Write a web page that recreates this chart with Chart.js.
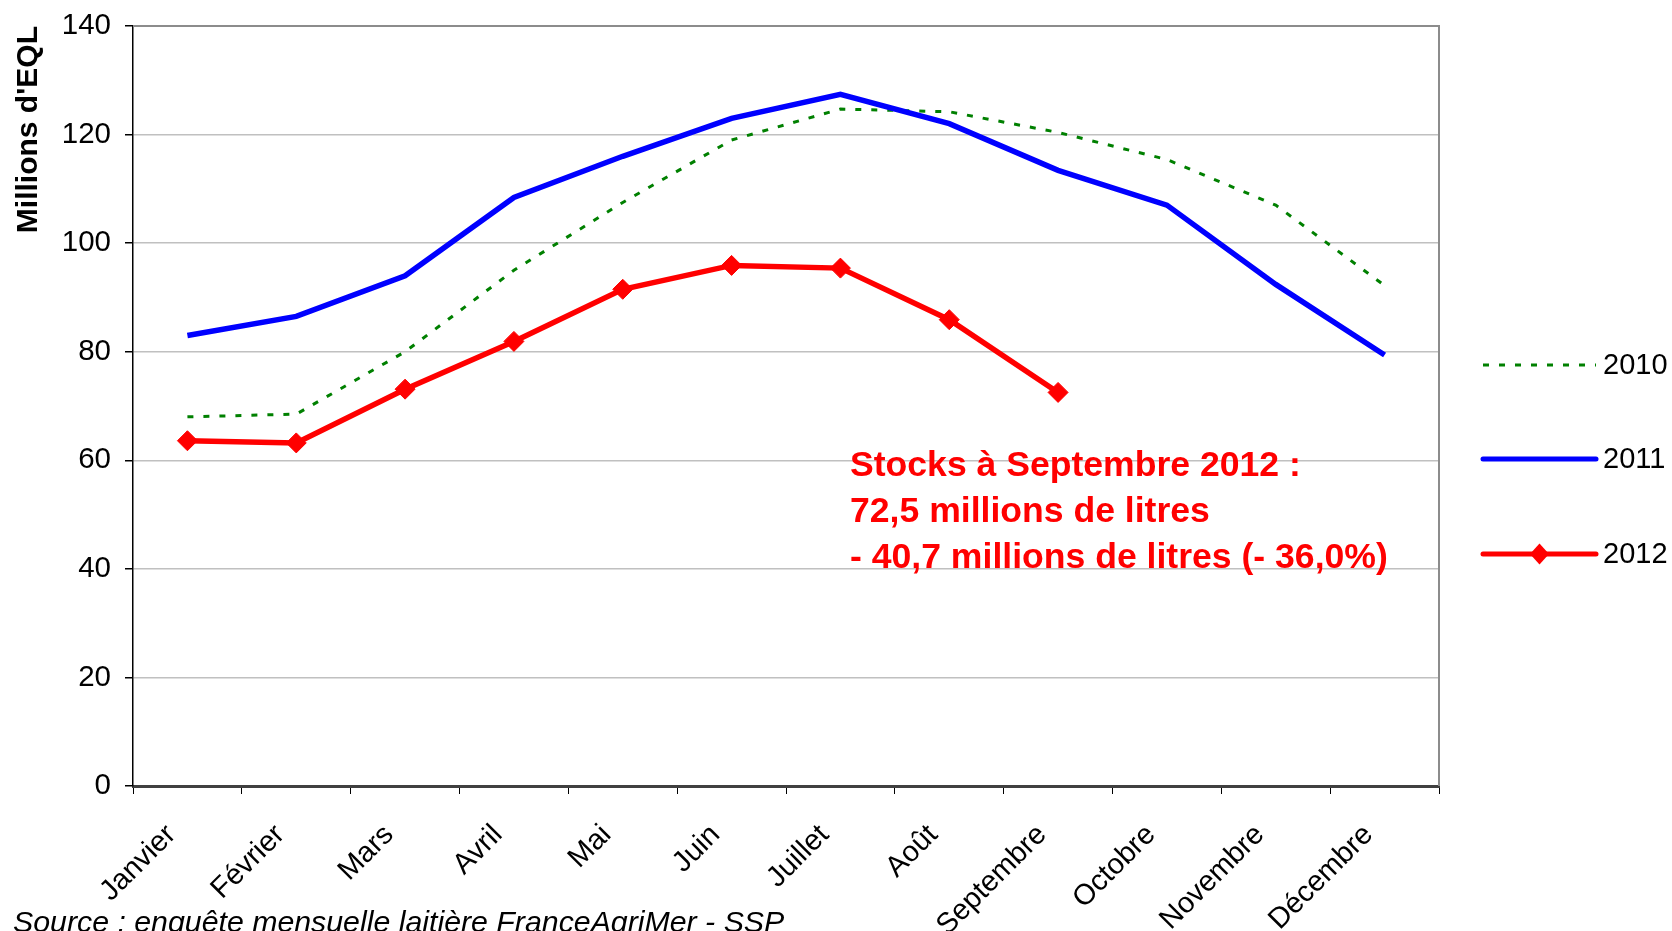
<!DOCTYPE html>
<html lang="fr">
<head>
    <meta charset="UTF-8">
    <title>Stocks - Millions d'EQL</title>
    <script src="https://cdn.jsdelivr.net/npm/chart.js"></script>
    <style>
        body {
            margin: 0;
            background: #fff;
        }
        #wrap {
            width: 1672px;
            height: 931px;
            position: relative;
        }
    </style>
</head>
<body>

    <div id="wrap"><canvas id="stockChart"></canvas></div>

    <script>
        const months = ["Janvier", "Février", "Mars", "Avril", "Mai", "Juin", "Juillet", "Août", "Septembre", "Octobre", "Novembre", "Décembre"];
        const years = ["2010", "2011", "2012"];
        const stocks2010 = [68, 68.5, 80, 95, 107.5, 119, 124.7, 124.2, 120.4, 115.4, 107, 92.2];
        const stocks2011 = [83, 86.5, 94, 108.4, 116, 123, 127.4, 122, 113.4, 107, 92.4, 79.4];
        const stocks2012 = [63.6, 63.2, 73.1, 81.9, 91.5, 95.9, 95.4, 85.9, 72.5];
        const yTicks = [0, 20, 40, 60, 80, 100, 120, 140];
        const noteLines = ["Stocks à Septembre 2012 :", "72,5 millions de litres", "- 40,7 millions de litres (- 36,0%)"];
        const sourceText = "Source : enquête mensuelle laitière FranceAgriMer - SSP";

        const FONT = '"Liberation Sans", Arial, sans-serif';

        // frame: grey top and right border like the original
        const framePlugin = {
            id: "frame",
            afterDatasetsDraw(chart) {
                const { ctx, chartArea: a } = chart;
                ctx.save();
                ctx.strokeStyle = "#8c8c8c";
                ctx.lineWidth = 2;
                ctx.beginPath();
                ctx.moveTo(a.left, a.top);
                ctx.lineTo(a.right, a.top);
                ctx.lineTo(a.right, a.bottom);
                ctx.stroke();
                ctx.restore();
            }
        };

        // legend on the right, drawn from the dataset styles
        const sideLegend = {
            id: "sideLegend",
            afterDraw(chart) {
                const ctx = chart.ctx;
                const x0 = 1483, x1 = 1596;
                const rows = [365, 459, 554];
                ctx.save();
                chart.data.datasets.forEach((ds, i) => {
                    const y = rows[i];
                    ctx.strokeStyle = ds.borderColor;
                    ctx.lineWidth = ds.borderDash ? ds.borderWidth : 5;
                    ctx.setLineDash(ds.borderDash || []);
                    ctx.lineCap = ds.borderDash ? "butt" : "round";
                    ctx.beginPath();
                    ctx.moveTo(x0, y);
                    ctx.lineTo(x1, y);
                    ctx.stroke();
                    ctx.setLineDash([]);
                    if (ds.pointRadius > 0) {
                        const r = ds.pointRadius;
                        const cx = (x0 + x1) / 2;
                        ctx.fillStyle = ds.pointBackgroundColor;
                        ctx.beginPath();
                        ctx.moveTo(cx, y - r * 1.05);
                        ctx.lineTo(cx + r * 0.95, y);
                        ctx.lineTo(cx, y + r * 1.05);
                        ctx.lineTo(cx - r * 0.95, y);
                        ctx.closePath();
                        ctx.fill();
                    }
                    ctx.fillStyle = "#000";
                    ctx.font = "29px " + FONT;
                    ctx.textAlign = "left";
                    ctx.textBaseline = "middle";
                    ctx.fillText(ds.label, 1603, y + 1);
                });
                ctx.restore();
            }
        };

        // red note and source line
        const notesPlugin = {
            id: "notes",
            afterDraw(chart) {
                const ctx = chart.ctx;
                ctx.save();
                ctx.fillStyle = "#ff0000";
                ctx.font = "bold 35.6px " + FONT;
                ctx.textAlign = "left";
                ctx.textBaseline = "middle";
                noteLines.forEach((t, i) => ctx.fillText(t, 850, 466 + i * 46));
                ctx.fillStyle = "#000";
                ctx.font = "italic 30.3px " + FONT;
                ctx.textBaseline = "alphabetic";
                ctx.fillText(sourceText, 13, 932);
                ctx.restore();
            }
        };

        const ctx = document.getElementById("stockChart").getContext("2d");
        new Chart(ctx, {
            type: "line",
            data: {
                labels: months,
                datasets: [
                    {
                        label: years[0], data: stocks2010, order: 3,
                        borderColor: "#008000", borderWidth: 3, borderDash: [6, 10],
                        pointRadius: 0, tension: 0, fill: false
                    },
                    {
                        label: years[1], data: stocks2011, order: 2,
                        borderColor: "#0000ff", borderWidth: 5.5,
                        pointRadius: 0, tension: 0, fill: false
                    },
                    {
                        label: years[2], data: stocks2012, order: 1,
                        borderColor: "#ff0000", borderWidth: 5.5,
                        pointStyle: "rectRot", pointRadius: 10,
                        pointBackgroundColor: "#ff0000", pointBorderColor: "#ff0000", pointBorderWidth: 1,
                        tension: 0, fill: false
                    }
                ]
            },
            options: {
                responsive: true,
                maintainAspectRatio: false,
                animation: false,
                devicePixelRatio: 1,
                layout: { padding: { top: 26, right: 233, left: 0, bottom: 0 } },
                plugins: {
                    legend: { display: false },
                    tooltip: { enabled: false }
                },
                scales: {
                    x: {
                        offset: true,
                        afterFit: s => { s.height = 145; },
                        grid: {
                            offset: true, drawOnChartArea: false, drawTicks: true,
                            tickLength: 8, tickColor: "#000", color: "#000"
                        },
                        border: { color: "#404040", width: 3 },
                        ticks: {
                            autoSkip: false, minRotation: 45, maxRotation: 45,
                            labelOffset: -16, padding: 24,
                            color: "#000", font: { family: FONT, size: 29 }
                        }
                    },
                    y: {
                        min: 0, max: 140,
                        afterFit: s => { s.width = 133; s.paddingTop = 0; s.paddingBottom = 0; },
                        afterBuildTicks: s => { s.ticks = yTicks.map(v => ({ value: v })); },
                        grid: { color: "#c0c0c0", lineWidth: 1.5, tickLength: 8, tickColor: "#000" },
                        border: { color: "#000", width: 1.5 },
                        ticks: { padding: 14, color: "#000", font: { family: FONT, size: 29.5 } },
                        title: {
                            display: true, text: "Millions d'EQL", align: "end",
                            color: "#000", font: { family: FONT, size: 30, weight: "bold" },
                            padding: { top: 11, bottom: 0 }
                        }
                    }
                }
            },
            plugins: [framePlugin, sideLegend, notesPlugin]
        });
    </script>

</body>
</html>
